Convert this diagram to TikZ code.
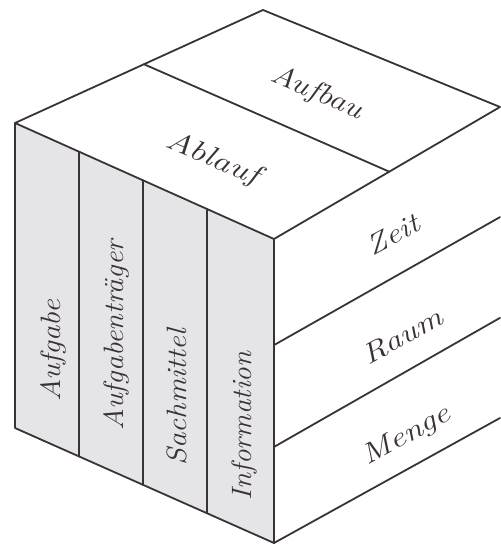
\documentclass[tikz,border=0pt]{standalone}
\usetikzlibrary{calc}
\definecolor{edge}{RGB}{58,50,55}
\definecolor{frontfill}{RGB}{229,229,231}
\begin{document}
\begin{tikzpicture}[x=1pt,y=-1pt,
  face/.style={draw=edge, line width=1.8pt, line join=round, line cap=round},
  lbl/.style={font=\fontsize{28}{28}\selectfont\itshape, text=edge, inner sep=0pt, anchor=base}]
\fill[white] (0,0) rectangle (500,545);
\useasboundingbox (0,0) rectangle (500,545);
% cube corners
\coordinate (T) at (263,10);
\coordinate (L) at (15,123);
\coordinate (F) at (274,239);
\coordinate (R) at (500,107);
\coordinate (BL) at (15,428);
\coordinate (BF) at (274,543);
\coordinate (BR) at (500,418);
% divider end points
\coordinate (tdA) at ($(L)!0.52!(T)$);
\coordinate (tdB) at ($(F)!0.51!(R)$);
\coordinate (c1t) at ($(L)!0.247!(F)$);
\coordinate (c1b) at ($(BL)!0.247!(BF)$);
\coordinate (c2t) at ($(L)!0.494!(F)$);
\coordinate (c2b) at ($(BL)!0.494!(BF)$);
\coordinate (c3t) at ($(L)!0.741!(F)$);
\coordinate (c3b) at ($(BL)!0.741!(BF)$);
\coordinate (r1a) at ($(F)!0.349!(BF)$);
\coordinate (r1b) at ($(R)!0.354!(BR)$);
\coordinate (r2a) at ($(F)!0.684!(BF)$);
\coordinate (r2b) at ($(R)!0.678!(BR)$);
% front face fill
\fill[frontfill] (L) -- (F) -- (BF) -- (BL) -- cycle;
% edges
\draw[face] (L) -- (T) -- (R) -- (F) -- cycle;
\draw[face] (L) -- (BL) -- (BF) -- (F);
\draw[face] (BF) -- (BR);
\draw[face] (tdA) -- (tdB);
\draw[face] (c1t) -- (c1b);
\draw[face] (c2t) -- (c2b);
\draw[face] (c3t) -- (c3b);
\draw[face] (r1a) -- (r1b);
\draw[face] (r2a) -- (r2b);
% labels top face
\node[lbl, rotate=-23] (aufbau) at (314,100) {\scalebox{1.19}[1]{Aufbau}};
\node[lbl, rotate=-23] (ablauf) at (210,166) {\scalebox{1.3}[1]{Ablauf}};
% labels right face
\node[lbl, rotate=28] (zeit) at (397,243) {\scalebox{1.19}[1]{Zeit}};
\node[lbl, rotate=29] (raum) at (407,344) {\scalebox{1.25}[1]{Raum}};
\node[lbl, rotate=29] (menge) at (410,442) {\scalebox{1.25}[1]{Menge}};
% labels front face
\node[lbl, rotate=90] (aufgabe) at (60,351) {\scalebox{1.1}[1]{Aufgabe}};
\node[lbl, rotate=90] (traeger) at (123,335) {\scalebox{1.07}[1]{Aufgabenträger}};
\node[lbl, rotate=90] (sach) at (186,397) {\scalebox{1.1}[1]{Sachmittel}};
\node[lbl, rotate=90] (info) at (251,426) {\scalebox{1.04}[1]{Information}};
\end{tikzpicture}
\end{document}
